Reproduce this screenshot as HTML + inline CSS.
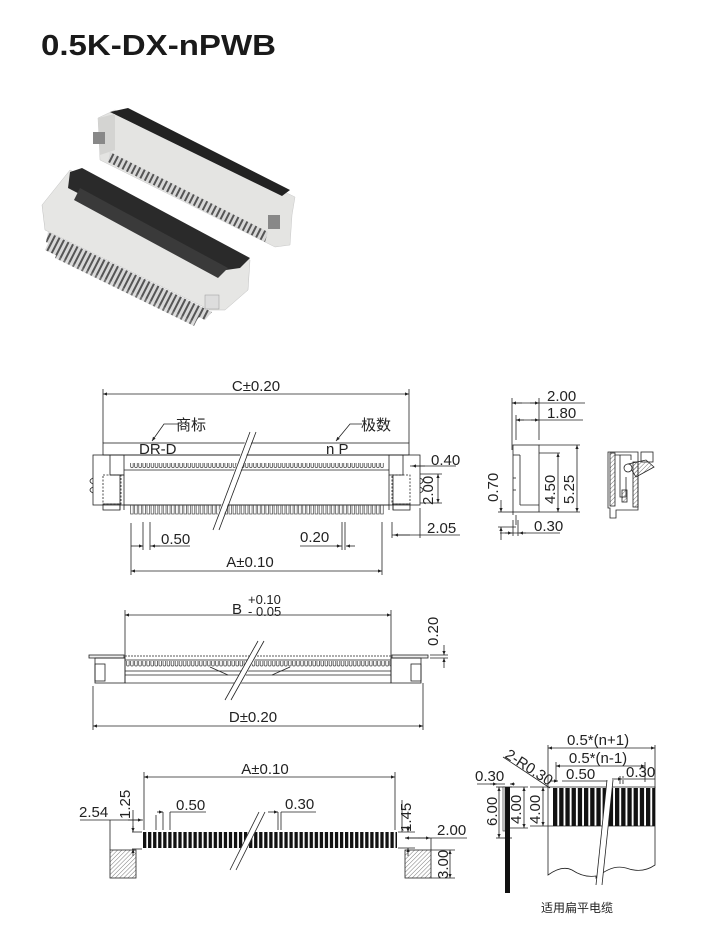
<!DOCTYPE html>
<html><head><meta charset="utf-8">
<style>
html,body{margin:0;padding:0;background:#fff;}
svg{display:block;}
text{font-family:"Liberation Sans","Noto Sans CJK SC",sans-serif;fill:#222;}
</style></head>
<body>
<svg width="717" height="930" viewBox="0 0 717 930" xmlns="http://www.w3.org/2000/svg">
<defs>
  <pattern id="pinUp" x="130" y="0" width="4.1" height="20" patternUnits="userSpaceOnUse">
    <rect x="0.6" y="0.5" width="2.6" height="7" rx="1" fill="none" stroke="#333" stroke-width="0.7"/>
  </pattern>
  <pattern id="pinDn" x="130" y="0" width="4.1" height="20" patternUnits="userSpaceOnUse">
    <rect x="0.6" y="0" width="2.6" height="14" fill="none" stroke="#444" stroke-width="0.7"/>
  </pattern>
  <pattern id="pinMid" x="126" y="0" width="4.05" height="20" patternUnits="userSpaceOnUse">
    <rect x="0.6" y="0" width="2.6" height="6" rx="1" fill="none" stroke="#333" stroke-width="0.7"/>
  </pattern>
  <pattern id="pad" x="143" y="0" width="5.05" height="20" patternUnits="userSpaceOnUse">
    <rect x="0" y="0" width="3.3" height="20" fill="#111"/>
  </pattern>
  <pattern id="strip" x="553" y="0" width="6.2" height="50" patternUnits="userSpaceOnUse">
    <rect x="0" y="0" width="4.3" height="50" fill="#111"/>
  </pattern>
  <pattern id="hatch" width="3" height="3" patternUnits="userSpaceOnUse" patternTransform="rotate(45)">
    <line x1="0" y1="0" x2="0" y2="3" stroke="#555" stroke-width="0.8"/>
  </pattern>
  <pattern id="metal" width="5" height="5" patternUnits="userSpaceOnUse" patternTransform="rotate(27)">
    <rect width="5" height="5" fill="#d8d8d8"/>
    <rect width="2" height="5" fill="#555"/>
  </pattern>
  <marker id="ar" viewBox="0 0 10 10" refX="10" refY="5" markerWidth="7" markerHeight="5" orient="auto-start-reverse">
    <path d="M0,1 L10,5 L0,9 z" fill="#222"/>
  </marker>
</defs>

<text x="41" y="55" font-size="29" font-weight="bold" textLength="235" lengthAdjust="spacingAndGlyphs" style="fill:#1a1a1a">0.5K-DX-nPWB</text>

<!-- Photo -->
<g>
  <polygon points="110,140 290,228 285,240 106,152" fill="url(#metal)"/>
  <polygon points="98,118 115,110 295,197 292,215 290,245 275,247 100,160" fill="#e4e4e2" stroke="#c8c8c8" stroke-width="0.5"/>
  <polygon points="110,112 128,108 290,190 282,196" fill="#222"/>
  <polygon points="98,118 115,114 115,150 100,155" fill="#d4d4d2"/>
  <rect x="93" y="132" width="12" height="12" fill="#888"/>
  <polygon points="110,152 268,232 265,242 108,162" fill="url(#metal)"/>
  <rect x="268" y="215" width="12" height="14" fill="#888"/>
  <polygon points="52,235 205,310 195,322 45,250" fill="url(#metal)"/>
  <polygon points="42,205 70,170 250,260 248,290 225,310 210,310 45,230" fill="#e6e6e4" stroke="#c0c0c0" stroke-width="0.5"/>
  <polygon points="70,172 82,168 250,258 240,268 226,270 68,188" fill="#2a2a2a"/>
  <polygon points="80,188 228,268 218,278 74,200" fill="#3a3a3a"/>
  <polygon points="48,232 212,312 205,320 46,242" fill="url(#metal)"/>
  <polygon points="58,250 198,318 194,326 55,258" fill="url(#metal)" opacity="0.85"/>
  <rect x="205" y="295" width="14" height="14" fill="#ddd" stroke="#999" stroke-width="0.5"/>
</g>

<!-- ===== Top front view ===== -->
<g stroke="#222" stroke-width="0.8" fill="none">
  <line x1="103" y1="394" x2="409" y2="394" marker-start="url(#ar)" marker-end="url(#ar)"/>
  <line x1="103" y1="389" x2="103" y2="443"/>
  <line x1="409" y1="389" x2="409" y2="443"/>
  <rect x="103" y="443" width="306" height="12"/>
  <rect x="93" y="455" width="327" height="50"/>
  <rect x="110" y="455" width="14" height="20"/>
  <rect x="389" y="455" width="14" height="20"/>
  <line x1="124" y1="470" x2="389" y2="470"/>
  <line x1="110" y1="475" x2="124" y2="475"/>
  <rect x="103" y="475" width="18" height="29" stroke-dasharray="2,1.5"/>
  <rect x="392" y="475" width="18" height="29" stroke-dasharray="2,1.5"/>
  <line x1="120" y1="475" x2="120" y2="510"/>
  <line x1="124" y1="475" x2="124" y2="510"/>
  <line x1="389" y1="475" x2="389" y2="510"/>
  <line x1="393" y1="475" x2="393" y2="510"/>
  <rect x="103" y="504" width="17" height="6"/>
  <rect x="393" y="504" width="17" height="6"/>
  <line x1="124" y1="505" x2="389" y2="505"/>
  <path d="M93,478 q-6,3 0,6 M93,487 q-6,3 0,6"/>
  <path d="M420,478 q6,3 0,6 M420,487 q6,3 0,6"/>
</g>
<rect x="130" y="463" width="254" height="8" fill="url(#pinUp)"/>
<rect x="130" y="505" width="254" height="15" fill="url(#pinDn)"/>
<g stroke="#222" stroke-width="0.8" fill="none">
  <line x1="215" y1="530" x2="252" y2="432" stroke="#fff" stroke-width="6"/>
  <line x1="213" y1="530" x2="250" y2="432"/>
  <line x1="219" y1="530" x2="256" y2="432"/>
  <path d="M178,424 L164,424 L152,441" marker-end="url(#ar)"/>
  <path d="M362,424 L350,424 L336,441" marker-end="url(#ar)"/>
  <line x1="410" y1="466" x2="456" y2="466"/>
  <line x1="425" y1="466" x2="412" y2="466" marker-end="url(#ar)"/>
  <line x1="420" y1="474" x2="442" y2="474"/>
  <line x1="420" y1="503" x2="442" y2="503"/>
  <line x1="438" y1="474" x2="438" y2="503" marker-start="url(#ar)" marker-end="url(#ar)"/>
  <line x1="392" y1="522" x2="392" y2="538"/>
  <line x1="420" y1="508" x2="420" y2="538"/>
  <line x1="392" y1="535" x2="460" y2="535"/>
  <line x1="410" y1="535" x2="394" y2="535" marker-end="url(#ar)"/>
  <line x1="131" y1="523" x2="131" y2="575"/>
  <line x1="143" y1="522" x2="143" y2="550"/>
  <line x1="150" y1="522" x2="150" y2="550"/>
  <line x1="131" y1="546" x2="143" y2="546" marker-end="url(#ar)"/>
  <line x1="150" y1="546" x2="190" y2="546"/>
  <line x1="160" y1="546" x2="151" y2="546" marker-end="url(#ar)"/>
  <line x1="342" y1="522" x2="342" y2="550"/>
  <line x1="345" y1="522" x2="345" y2="550"/>
  <line x1="300" y1="546" x2="342" y2="546"/>
  <line x1="336" y1="546" x2="341" y2="546" marker-end="url(#ar)"/>
  <line x1="355" y1="546" x2="346" y2="546" marker-end="url(#ar)"/>
  <line x1="382" y1="522" x2="382" y2="575"/>
  <line x1="131" y1="571" x2="382" y2="571" marker-start="url(#ar)" marker-end="url(#ar)"/>
</g>
<g font-size="15">
  <text x="256" y="391" text-anchor="middle">C±0.20</text>
  <text x="191" y="430" text-anchor="middle">商标</text>
  <text x="376" y="430" text-anchor="middle">极数</text>
  <text x="139" y="454">DR-D</text>
  <text x="326" y="454">n P</text>
  <text x="431" y="465">0.40</text>
  <text x="433" y="505" transform="rotate(-90 433 505)">2.00</text>
  <text x="427" y="533">2.05</text>
  <text x="161" y="544">0.50</text>
  <text x="300" y="542">0.20</text>
  <text x="250" y="567" text-anchor="middle">A±0.10</text>
</g>

<!-- ===== Middle view ===== -->
<g stroke="#222" stroke-width="0.8" fill="none">
  <line x1="125" y1="615" x2="391" y2="615" marker-start="url(#ar)" marker-end="url(#ar)"/>
  <line x1="125" y1="610" x2="125" y2="683"/>
  <line x1="391" y1="610" x2="391" y2="683"/>
  <rect x="89" y="655" width="35" height="3" fill="#eee"/>
  <rect x="392" y="655" width="36" height="3" fill="#eee"/>
  <line x1="125" y1="656" x2="391" y2="656" stroke-dasharray="2,1"/>
  <rect x="95" y="658" width="30" height="25"/>
  <rect x="391" y="658" width="30" height="25"/>
  <rect x="95" y="664" width="10" height="17"/>
  <rect x="411" y="664" width="10" height="17"/>
  <line x1="125" y1="660" x2="391" y2="660"/>
  <line x1="125" y1="671" x2="391" y2="671"/>
  <line x1="125" y1="675" x2="391" y2="675"/>
  <line x1="125" y1="683" x2="391" y2="683"/>
  <path d="M210,667 L228,675 M290,667 L272,675"/>
  <line x1="93" y1="686" x2="93" y2="730"/>
  <line x1="423" y1="683" x2="423" y2="730"/>
  <line x1="93" y1="726" x2="423" y2="726" marker-start="url(#ar)" marker-end="url(#ar)"/>
  <line x1="430" y1="655" x2="448" y2="655"/>
  <line x1="430" y1="658" x2="448" y2="658"/>
  <line x1="444" y1="645" x2="444" y2="655" marker-end="url(#ar)"/>
  <line x1="444" y1="668" x2="444" y2="658" marker-end="url(#ar)"/>
</g>
<rect x="126" y="661" width="265" height="7" fill="url(#pinMid)"/>
<g stroke="#222" stroke-width="0.8">
  <line x1="228" y1="700" x2="262" y2="641" stroke="#fff" stroke-width="6"/>
  <line x1="225" y1="700" x2="258" y2="641"/>
  <line x1="231" y1="700" x2="264" y2="641"/>
</g>
<g font-size="15">
  <text x="232" y="614">B</text>
  <text x="248" y="604" font-size="13">+0.10</text>
  <text x="248" y="616" font-size="13">- 0.05</text>
  <text x="253" y="722" text-anchor="middle">D±0.20</text>
  <text x="438" y="646" transform="rotate(-90 438 646)">0.20</text>
</g>

<!-- ===== Side view ===== -->
<g stroke="#222" stroke-width="0.8" fill="none">
  <line x1="512" y1="398" x2="512" y2="450"/>
  <line x1="539" y1="398" x2="539" y2="440"/>
  <line x1="516" y1="415" x2="516" y2="440"/>
  <line x1="512" y1="403" x2="585" y2="403"/>
  <line x1="512" y1="403" x2="522" y2="403" marker-start="url(#ar)"/>
  <line x1="530" y1="403" x2="539" y2="403" marker-end="url(#ar)"/>
  <line x1="516" y1="420" x2="583" y2="420"/>
  <line x1="516" y1="420" x2="524" y2="420" marker-start="url(#ar)"/>
  <line x1="531" y1="420" x2="539" y2="420" marker-end="url(#ar)"/>
  <rect x="513" y="445" width="26" height="67"/>
  <line x1="520" y1="455" x2="520" y2="505"/>
  <line x1="513" y1="455" x2="520" y2="455"/>
  <line x1="520" y1="505" x2="539" y2="505"/>
  <line x1="513" y1="478" x2="516" y2="478"/>
  <line x1="513" y1="490" x2="516" y2="490"/>
  <line x1="539" y1="445" x2="580" y2="445"/>
  <line x1="539" y1="453" x2="560" y2="453"/>
  <line x1="539" y1="512" x2="580" y2="512"/>
  <line x1="558" y1="453" x2="558" y2="512" marker-start="url(#ar)" marker-end="url(#ar)"/>
  <line x1="577" y1="445" x2="577" y2="512" marker-start="url(#ar)" marker-end="url(#ar)"/>
  <path d="M513,512 v3 M516,515 v10"/>
  <line x1="498" y1="512" x2="513" y2="512"/>
  <line x1="498" y1="527" x2="516" y2="527"/>
  <line x1="501" y1="500" x2="501" y2="512" marker-end="url(#ar)"/>
  <line x1="501" y1="540" x2="501" y2="527" marker-end="url(#ar)"/>
  <line x1="513" y1="520" x2="513" y2="536"/>
  <line x1="518" y1="520" x2="518" y2="536"/>
  <line x1="500" y1="533" x2="560" y2="533"/>
  <line x1="505" y1="533" x2="512" y2="533" marker-end="url(#ar)"/>
  <line x1="526" y1="533" x2="519" y2="533" marker-end="url(#ar)"/>
  <rect x="610" y="453" width="5" height="53" fill="url(#hatch)"/>
  <rect x="633" y="462" width="5" height="45" fill="url(#hatch)"/>
  <path d="M608,452 h30 v58 h-22 v8 h-6 v-10 h-2 z"/>
  <path d="M615,455 h16 v5 M620,455 v42 h6 v-20"/>
  <rect x="622" y="490" width="5" height="12" fill="url(#hatch)"/>
  <rect x="641" y="452" width="12" height="10"/>
  <path d="M628,464 l18,-4 l8,7 l-18,10 z" fill="url(#hatch)"/>
  <circle cx="628" cy="468" r="4" fill="#fff"/>
</g>
<g font-size="15">
  <text x="547" y="401">2.00</text>
  <text x="547" y="418">1.80</text>
  <text x="555" y="504" transform="rotate(-90 555 504)">4.50</text>
  <text x="574" y="504" transform="rotate(-90 574 504)">5.25</text>
  <text x="498" y="502" transform="rotate(-90 498 502)">0.70</text>
  <text x="534" y="531">0.30</text>
</g>

<!-- ===== Footprint ===== -->
<g stroke="#222" stroke-width="0.8" fill="none">
  <line x1="144" y1="777" x2="395" y2="777" marker-start="url(#ar)" marker-end="url(#ar)"/>
  <line x1="144" y1="772" x2="144" y2="830"/>
  <line x1="395" y1="772" x2="395" y2="830"/>
  <rect x="110" y="850" width="26" height="28" fill="url(#hatch)"/>
  <rect x="405" y="850" width="26" height="28" fill="url(#hatch)"/>
  <line x1="80" y1="820" x2="143" y2="820"/>
  <line x1="110" y1="820" x2="110" y2="850"/>
  <line x1="128" y1="820" x2="142" y2="820" marker-end="url(#ar)"/>
  <line x1="133" y1="810" x2="133" y2="830"/>
  <line x1="132" y1="832" x2="142" y2="832"/>
  <line x1="132" y1="849" x2="142" y2="849"/>
  <line x1="133" y1="826" x2="133" y2="832" marker-end="url(#ar)"/>
  <line x1="133" y1="856" x2="133" y2="849" marker-end="url(#ar)"/>
  <line x1="156" y1="815" x2="156" y2="830"/>
  <line x1="163" y1="812" x2="163" y2="830"/>
  <line x1="170" y1="812" x2="170" y2="830"/>
  <line x1="157" y1="812" x2="163" y2="812" marker-end="url(#ar)"/>
  <line x1="170" y1="812" x2="206" y2="812"/>
  <line x1="278" y1="812" x2="278" y2="830"/>
  <line x1="281" y1="812" x2="281" y2="830"/>
  <line x1="268" y1="812" x2="278" y2="812" marker-end="url(#ar)"/>
  <line x1="281" y1="812" x2="316" y2="812"/>
  <line x1="402" y1="800" x2="402" y2="832"/>
  <line x1="398" y1="832" x2="415" y2="832"/>
  <line x1="398" y1="848" x2="415" y2="848"/>
  <line x1="408" y1="826" x2="408" y2="832" marker-end="url(#ar)"/>
  <line x1="408" y1="856" x2="408" y2="848" marker-end="url(#ar)"/>
  <line x1="405" y1="838" x2="467" y2="838"/>
  <line x1="431" y1="838" x2="431" y2="850"/>
  <line x1="420" y1="838" x2="405" y2="838" marker-end="url(#ar)"/>
  <line x1="418" y1="838" x2="430" y2="838" marker-end="url(#ar)"/>
  <line x1="431" y1="850" x2="455" y2="850"/>
  <line x1="431" y1="878" x2="455" y2="878"/>
  <line x1="450" y1="850" x2="450" y2="878" marker-start="url(#ar)" marker-end="url(#ar)"/>
</g>
<rect x="143" y="832" width="254" height="16" fill="url(#pad)"/>
<g stroke="#222" stroke-width="0.8">
  <line x1="233" y1="870" x2="262" y2="812" stroke="#fff" stroke-width="6"/>
  <line x1="230" y1="870" x2="259" y2="812"/>
  <line x1="236" y1="870" x2="265" y2="812"/>
</g>
<g font-size="15">
  <text x="265" y="774" text-anchor="middle">A±0.10</text>
  <text x="79" y="817">2.54</text>
  <text x="130" y="819" transform="rotate(-90 130 819)">1.25</text>
  <text x="176" y="810">0.50</text>
  <text x="285" y="809">0.30</text>
  <text x="411" y="832" transform="rotate(-90 411 832)">1.45</text>
  <text x="437" y="835">2.00</text>
  <text x="448" y="879" transform="rotate(-90 448 879)">3.00</text>
</g>

<!-- ===== Cable ===== -->
<g stroke="#222" stroke-width="0.8" fill="none">
  <line x1="548" y1="745" x2="548" y2="788"/>
  <line x1="655" y1="745" x2="655" y2="788"/>
  <line x1="548" y1="748" x2="655" y2="748" marker-start="url(#ar)" marker-end="url(#ar)"/>
  <line x1="556" y1="762" x2="556" y2="782"/>
  <line x1="645" y1="762" x2="645" y2="782"/>
  <line x1="556" y1="766" x2="645" y2="766" marker-start="url(#ar)" marker-end="url(#ar)"/>
  <line x1="503" y1="757" x2="550" y2="788"/>
  <line x1="550" y1="781" x2="558" y2="781" marker-end="url(#ar)"/>
  <line x1="562" y1="781" x2="610" y2="781"/>
  <line x1="612" y1="779" x2="622" y2="779" marker-end="url(#ar)"/>
  <line x1="624" y1="779" x2="655" y2="779"/>
  <line x1="620" y1="776" x2="620" y2="784"/>
  <line x1="623" y1="776" x2="623" y2="784"/>
  <path d="M548,787 V875 q14,-10 24,-5 q12,8 24,6 L596,878 q16,-14 30,-10 q16,6 29,-3 V787 Z"/>
  <line x1="548" y1="826" x2="655" y2="826"/>
  <line x1="477" y1="784" x2="505" y2="784"/>
  <line x1="490" y1="784" x2="497" y2="784" marker-end="url(#ar)"/>
  <line x1="515" y1="784" x2="510" y2="784" marker-end="url(#ar)"/>
  <line x1="496" y1="787" x2="512" y2="787"/>
  <line x1="496" y1="838" x2="512" y2="838"/>
  <line x1="499" y1="787" x2="499" y2="838" marker-start="url(#ar)" marker-end="url(#ar)"/>
  <line x1="510" y1="787" x2="528" y2="787"/>
  <line x1="510" y1="828" x2="528" y2="828"/>
  <line x1="524" y1="787" x2="524" y2="828" marker-start="url(#ar)" marker-end="url(#ar)"/>
  <line x1="530" y1="787" x2="548" y2="787"/>
  <line x1="530" y1="826" x2="548" y2="826"/>
  <line x1="543" y1="787" x2="543" y2="826" marker-start="url(#ar)" marker-end="url(#ar)"/>
</g>
<rect x="505" y="787" width="5" height="106" fill="#111"/>
<rect x="503" y="787" width="2" height="44" fill="#fff" stroke="#222" stroke-width="0.6"/>
<rect x="553" y="788" width="102" height="38" fill="url(#strip)"/>
<g stroke="#222" stroke-width="0.8">
  <line x1="599" y1="885" x2="610" y2="780" stroke="#fff" stroke-width="6"/>
  <line x1="596" y1="885" x2="607" y2="780"/>
  <line x1="602" y1="885" x2="613" y2="780"/>
</g>
<g font-size="15">
  <text x="598" y="745" text-anchor="middle">0.5*(n+1)</text>
  <text x="598" y="763" text-anchor="middle">0.5*(n-1)</text>
  <text x="504" y="757" transform="rotate(33 504 757)">2-R0.30</text>
  <text x="475" y="781">0.30</text>
  <text x="566" y="779">0.50</text>
  <text x="626" y="777">0.30</text>
  <text x="497" y="826" transform="rotate(-90 497 826)">6.00</text>
  <text x="521" y="824" transform="rotate(-90 521 824)">4.00</text>
  <text x="540" y="824" transform="rotate(-90 540 824)">4.00</text>
  <text x="541" y="912" font-size="12">适用扁平电缆</text>
</g>
</svg>
</body></html>
